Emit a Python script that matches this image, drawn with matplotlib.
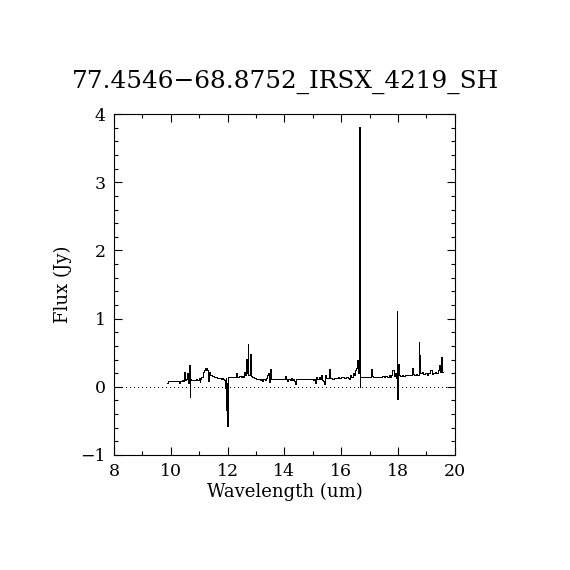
import numpy as np
import matplotlib.pyplot as plt
from matplotlib.ticker import MultipleLocator

title = '77.4546\u221268.8752_IRSX_4219_SH'

# spectrum (wavelength in um, flux in Jy)
wave = [9.87, 9.90, 9.96, 10.02, 10.08, 10.14, 10.20, 10.26, 10.30, 10.34,
        10.38, 10.42, 10.46, 10.50, 10.53, 10.56, 10.59, 10.62, 10.65, 10.67,
        10.70, 10.73, 10.78, 10.84, 10.90, 10.96, 11.00, 11.03, 11.06, 11.10,
        11.14, 11.18, 11.21, 11.24, 11.27, 11.30, 11.33, 11.36, 11.42, 11.48,
        11.54, 11.60, 11.66, 11.72, 11.78, 11.82, 11.86, 11.89, 11.92, 11.94,
        11.96, 11.98, 12.00, 12.02, 12.08, 12.14, 12.20, 12.26, 12.30, 12.33,
        12.38, 12.44, 12.48, 12.52, 12.56, 12.60, 12.63, 12.66, 12.69, 12.72,
        12.75, 12.78, 12.82, 12.85, 12.90, 12.96, 13.02, 13.08, 13.12, 13.16,
        13.20, 13.24, 13.28, 13.32, 13.36, 13.40, 13.44, 13.47, 13.50, 13.53,
        13.58, 13.64, 13.70, 13.76, 13.82, 13.88, 13.94, 14.00, 14.04, 14.08,
        14.12, 14.16, 14.20, 14.24, 14.28, 14.32, 14.36, 14.40, 14.44, 14.50,
        14.56, 14.62, 14.68, 14.74, 14.80, 14.86, 14.92, 14.98, 15.02, 15.06,
        15.10, 15.14, 15.18, 15.22, 15.26, 15.30, 15.34, 15.38, 15.42, 15.46,
        15.50, 15.54, 15.58, 15.61, 15.66, 15.72, 15.78, 15.84, 15.90, 15.96,
        16.02, 16.08, 16.14, 16.20, 16.26, 16.30, 16.34, 16.38, 16.42, 16.46,
        16.50, 16.54, 16.58, 16.61, 16.64, 16.66, 16.69, 16.74, 16.80, 16.86,
        16.92, 16.98, 17.04, 17.07, 17.10, 17.16, 17.22, 17.28, 17.34, 17.40,
        17.46, 17.52, 17.58, 17.64, 17.70, 17.74, 17.78, 17.82, 17.86, 17.90,
        17.94, 17.97, 17.99, 18.01, 18.04, 18.10, 18.16, 18.22, 18.28, 18.34,
        18.40, 18.46, 18.51, 18.54, 18.60, 18.66, 18.70, 18.74, 18.77, 18.80,
        18.86, 18.92, 18.98, 19.04, 19.10, 19.16, 19.20, 19.26, 19.32, 19.38,
        19.42, 19.46, 19.49, 19.52, 19.54, 19.57, 19.59]
flux = [0.05, 0.08, 0.08, 0.08, 0.08, 0.08, 0.085, 0.08, 0.06, 0.09,
        0.09, 0.10, 0.08, 0.21, 0.10, 0.12, 0.20, 0.05, 0.32, -0.15,
        0.12, 0.10, 0.10, 0.10, 0.11, 0.10, 0.13, 0.07, 0.12, 0.15,
        0.21, 0.24, 0.27, 0.25, 0.28, 0.24, 0.09, 0.21, 0.18, 0.16,
        0.15, 0.14, 0.13, 0.13, 0.12, 0.13, 0.12, 0.10, -0.02, 0.13,
        -0.34, 0.05, -0.58, 0.14, 0.14, 0.14, 0.14, 0.14, 0.20, 0.14,
        0.15, 0.16, 0.14, 0.16, 0.15, 0.22, 0.18, 0.41, 0.20, 0.63,
        0.18, 0.17, 0.48, 0.16, 0.15, 0.13, 0.12, 0.11, 0.12, 0.10,
        0.12, 0.09, 0.12, 0.10, 0.13, 0.17, 0.20, 0.07, 0.26, 0.12,
        0.11, 0.11, 0.12, 0.11, 0.11, 0.12, 0.12, 0.11, 0.16, 0.11,
        0.09, 0.12, 0.10, 0.13, 0.10, 0.12, 0.09, 0.04, 0.11, 0.11,
        0.11, 0.11, 0.11, 0.12, 0.11, 0.11, 0.11, 0.12, 0.10, 0.12,
        0.05, 0.14, 0.11, 0.15, 0.11, 0.17, 0.10, 0.08, 0.04, 0.18,
        0.13, 0.13, 0.26, 0.13, 0.13, 0.12, 0.13, 0.13, 0.14, 0.13,
        0.14, 0.14, 0.13, 0.14, 0.13, 0.12, 0.17, 0.15, 0.20, 0.18,
        0.24, 0.28, 0.40, 0.20, 3.81, 0.00, 0.15, 0.14, 0.15, 0.14,
        0.15, 0.15, 0.14, 0.26, 0.16, 0.15, 0.15, 0.15, 0.14, 0.15,
        0.16, 0.15, 0.16, 0.15, 0.18, 0.15, 0.18, 0.24, 0.16, 0.20,
        0.13, 1.11, -0.18, 0.34, 0.17, 0.16, 0.17, 0.16, 0.17, 0.17,
        0.18, 0.17, 0.27, 0.19, 0.18, 0.19, 0.18, 0.65, 0.47, 0.20,
        0.21, 0.19, 0.20, 0.18, 0.20, 0.24, 0.19, 0.20, 0.21, 0.20,
        0.24, 0.32, 0.22, 0.44, 0.27, 0.22, 0.21]

plt.rcParams['font.family'] = 'DejaVu Serif'

fig = plt.figure(figsize=(5.7, 5.7), dpi=100)
ax = fig.add_axes([0.2, 0.2018, 0.598, 0.598])

ax.plot(wave, flux, color='black', lw=0.72, drawstyle='steps-mid',
        antialiased=False)
ax.axhline(0, color='black', lw=0.72, ls=(0, (1, 4)), antialiased=False)

ax.set_xlim(8, 20)
ax.set_ylim(-1, 4)
ax.xaxis.set_major_locator(MultipleLocator(2))
ax.xaxis.set_minor_locator(MultipleLocator(1))
ax.yaxis.set_major_locator(MultipleLocator(1))
ax.yaxis.set_minor_locator(MultipleLocator(0.2))
ax.tick_params(which='both', direction='in', top=True, right=True,
               labelsize=12.5, width=0.8)
ax.tick_params(which='major', length=6, pad=6)
ax.tick_params(which='minor', length=3)
for s in ax.spines.values():
    s.set_linewidth(0.8)

ax.set_xlabel('Wavelength (um)', fontsize=13, labelpad=2)
ax.set_ylabel('Flux (Jy)', fontsize=13, labelpad=6)
fig.text(0.5, 0.856, title, ha='center', va='center', fontsize=17.8)

fig.savefig('out.png', dpi=100)
